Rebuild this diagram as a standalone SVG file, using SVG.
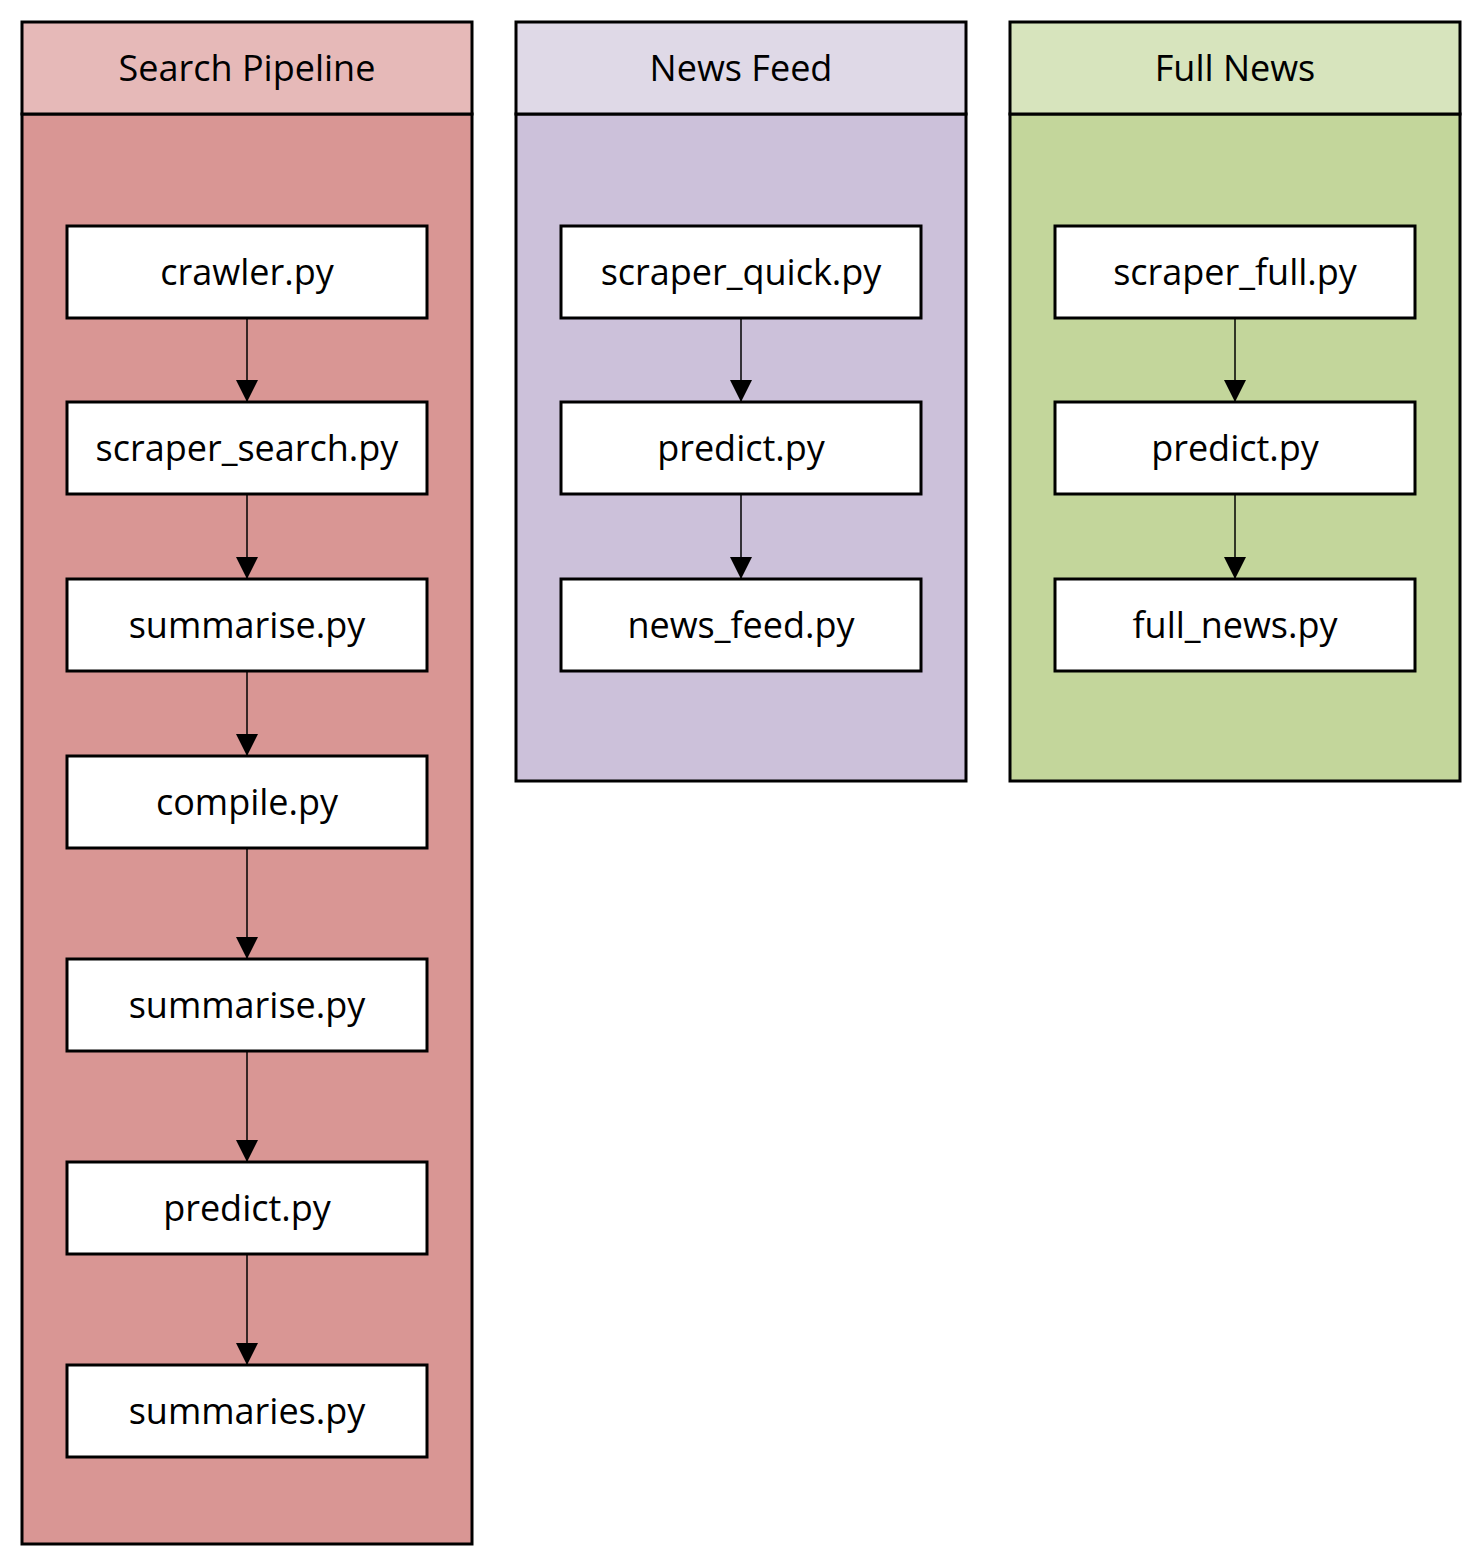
<svg xmlns="http://www.w3.org/2000/svg" width="1482" height="1567" viewBox="0 0 1482 1567">
<style>
.lane{stroke:#000;stroke-width:3}
.node rect{fill:#fff;stroke:#000;stroke-width:3}
text{font-family:"Open Sans","Liberation Sans",sans-serif;font-size:36px;fill:#000;text-anchor:middle;dominant-baseline:central}
.conn line{stroke:#000;stroke-width:1.5}
</style>
<defs>
<marker id="ah" markerWidth="22" markerHeight="22" viewBox="0 0 22 22" refX="22" refY="11" orient="auto" markerUnits="userSpaceOnUse">
<path d="M0,0 L22,11 L0,22 Z" fill="#000"/>
</marker>
</defs>
<rect x="0" y="0" width="1482" height="1567" fill="#fff"/>
<g id="lane-search">
<rect class="lane" x="22" y="114" width="450" height="1430" fill="#D99694"/>
<rect class="lane" x="22" y="22" width="450" height="92" fill="#E6B9B8"/>
<text x="247" y="67">Search Pipeline</text>
</g>
<g id="lane-news">
<rect class="lane" x="516" y="114" width="450" height="667" fill="#CCC1DA"/>
<rect class="lane" x="516" y="22" width="450" height="92" fill="#DFD9E7"/>
<text x="741" y="67">News Feed</text>
</g>
<g id="lane-full">
<rect class="lane" x="1010" y="114" width="450" height="667" fill="#C3D69B"/>
<rect class="lane" x="1010" y="22" width="450" height="92" fill="#D7E4BD"/>
<text x="1235" y="67">Full News</text>
</g>
<g id="connectors" class="conn">
<line x1="247" y1="318" x2="247" y2="402" marker-end="url(#ah)"/>
<line x1="247" y1="494" x2="247" y2="579" marker-end="url(#ah)"/>
<line x1="247" y1="671" x2="247" y2="756" marker-end="url(#ah)"/>
<line x1="247" y1="848" x2="247" y2="959" marker-end="url(#ah)"/>
<line x1="247" y1="1051" x2="247" y2="1162" marker-end="url(#ah)"/>
<line x1="247" y1="1254" x2="247" y2="1365" marker-end="url(#ah)"/>
<line x1="741" y1="318" x2="741" y2="402" marker-end="url(#ah)"/>
<line x1="741" y1="494" x2="741" y2="579" marker-end="url(#ah)"/>
<line x1="1235" y1="318" x2="1235" y2="402" marker-end="url(#ah)"/>
<line x1="1235" y1="494" x2="1235" y2="579" marker-end="url(#ah)"/>
</g>
<g id="n-crawler" class="node"><rect x="67" y="226" width="360" height="92"/><text x="247" y="271">crawler.py</text></g>
<g id="n-scraper-search" class="node"><rect x="67" y="402" width="360" height="92"/><text x="247" y="447">scraper_search.py</text></g>
<g id="n-summarise1" class="node"><rect x="67" y="579" width="360" height="92"/><text x="247" y="624">summarise.py</text></g>
<g id="n-compile" class="node"><rect x="67" y="756" width="360" height="92"/><text x="247" y="801">compile.py</text></g>
<g id="n-summarise2" class="node"><rect x="67" y="959" width="360" height="92"/><text x="247" y="1004">summarise.py</text></g>
<g id="n-predict1" class="node"><rect x="67" y="1162" width="360" height="92"/><text x="247" y="1207">predict.py</text></g>
<g id="n-summaries" class="node"><rect x="67" y="1365" width="360" height="92"/><text x="247" y="1410">summaries.py</text></g>
<g id="n-scraper-quick" class="node"><rect x="561" y="226" width="360" height="92"/><text x="741" y="271">scraper_quick.py</text></g>
<g id="n-predict2" class="node"><rect x="561" y="402" width="360" height="92"/><text x="741" y="447">predict.py</text></g>
<g id="n-news-feed" class="node"><rect x="561" y="579" width="360" height="92"/><text x="741" y="624">news_feed.py</text></g>
<g id="n-scraper-full" class="node"><rect x="1055" y="226" width="360" height="92"/><text x="1235" y="271">scraper_full.py</text></g>
<g id="n-predict3" class="node"><rect x="1055" y="402" width="360" height="92"/><text x="1235" y="447">predict.py</text></g>
<g id="n-full-news" class="node"><rect x="1055" y="579" width="360" height="92"/><text x="1235" y="624">full_news.py</text></g>
</svg>
